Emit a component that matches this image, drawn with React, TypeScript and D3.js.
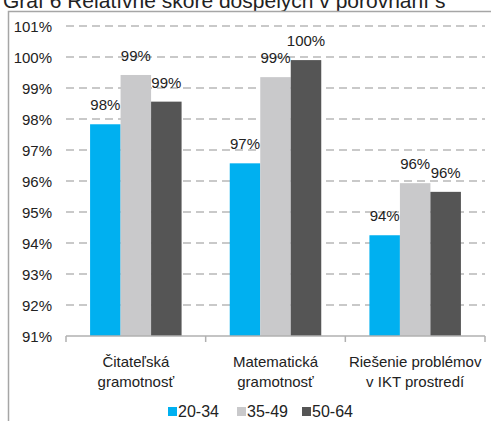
import React from "react";
import * as d3 from "d3";

const categories: string[][] = [
  ["Čitateľská", "gramotnosť"],
  ["Matematická", "gramotnosť"],
  ["Riešenie problémov", "v IKT prostredí"],
];
const seriesNames = ["20-34", "35-49", "50-64"];
const values2034 = [97.83, 96.57, 94.25];
const values3549 = [99.42, 99.35, 95.93];
const values5064 = [98.56, 99.9, 95.65];
const valueLabels2034 = ["98%", "97%", "94%"];
const valueLabels3549 = ["99%", "99%", "96%"];
const valueLabels5064 = ["99%", "100%", "96%"];
const yTicks = [91, 92, 93, 94, 95, 96, 97, 98, 99, 100, 101];
const colors = ["#00b0f0", "#c9c9cb", "#555555"];

const W = 491;
const H = 421;
const FONT = "'Liberation Sans', Arial, sans-serif";

export default function App() {
  const series = [values2034, values3549, values5064];
  const seriesLabels = [valueLabels2034, valueLabels3549, valueLabels5064];
  const catKeys = categories.map((c) => c.join(" "));

  const y = d3.scaleLinear().domain([91, 101]).range([336, 26]);
  const x0 = d3.scaleBand<string>().domain(catKeys).range([66, 485]).padding(0);
  const bw = x0.bandwidth();
  const groupW = 91.5;
  const off = (bw - groupW) / 2;
  const x1 = d3.scaleBand<string>().domain(seriesNames).range([off, bw - off]).padding(0);

  const legendItems = [
    { name: seriesNames[0], x: 168 },
    { name: seriesNames[1], x: 237 },
    { name: seriesNames[2], x: 302 },
  ];

  return (
    <svg
      width={W}
      height={H}
      style={{ position: "absolute", left: 0, top: 0, background: "#fff" }}
      fontFamily={FONT}
    >
      <rect x={0} y={0} width={W} height={H} fill="#fff" />
      {/* title, clipped at the top edge as in the reference */}
      <text x={3} y={8} fontSize={21} fill="#222">
        Graf 6 Relatívne skóre dospelých v porovnaní s
      </text>
      {/* border box */}
      <rect x={8.5} y={11.5} width={W + 10} height={H + 10} fill="none" stroke="#a6a6a6" strokeWidth={1.5} />

      {/* gridlines */}
      {yTicks.slice(1).map((t) => (
        <line
          key={t}
          x1={66}
          x2={485}
          y1={y(t)}
          y2={y(t)}
          stroke="#b8b8b8"
          strokeWidth={1.5}
          strokeDasharray="8,5"
        />
      ))}
      {/* y labels */}
      {yTicks.map((t) => (
        <text key={t} x={52} y={y(t) + 5.5} textAnchor="end" fontSize={15} fill="#222">
          {t}%
        </text>
      ))}

      {/* bars */}
      {catKeys.map((c, ci) => (
        <g key={c} transform={`translate(${x0(c)},0)`}>
          {series.map((vals, si) => (
            <rect
              key={si}
              x={x1(seriesNames[si])}
              y={y(vals[ci])}
              width={x1.bandwidth()}
              height={y(91) - y(vals[ci])}
              fill={colors[si]}
            />
          ))}
          {series.map((vals, si) => (
            <text
              key={"l" + si}
              x={(x1(seriesNames[si]) as number) + x1.bandwidth() / 2}
              y={y(vals[ci]) - 14}
              textAnchor="middle"
              fontSize={15}
              fill="#222"
            >
              {seriesLabels[si][ci]}
            </text>
          ))}
        </g>
      ))}

      {/* x axis */}
      <line x1={66} x2={485} y1={y(91)} y2={y(91)} stroke="#b0b0b0" strokeWidth={1.5} />
      {[...catKeys.map((c) => x0(c) as number), 485].map((tx, i) => (
        <line key={i} x1={tx} x2={tx} y1={y(91)} y2={y(91) + 6} stroke="#b0b0b0" strokeWidth={1.5} />
      ))}
      {categories.map((lines, ci) => (
        <text
          key={ci}
          x={(x0(catKeys[ci]) as number) + bw / 2}
          textAnchor="middle"
          fontSize={15}
          fill="#222"
        >
          <tspan x={(x0(catKeys[ci]) as number) + bw / 2} y={367}>
            {lines[0]}
          </tspan>
          <tspan x={(x0(catKeys[ci]) as number) + bw / 2} y={387}>
            {lines[1]}
          </tspan>
        </text>
      ))}

      {/* legend */}
      {legendItems.map((it, i) => (
        <g key={it.name}>
          <rect x={it.x} y={407} width={9} height={9} fill={colors[i]} />
          <text x={it.x + 10} y={417} fontSize={16} fill="#222">
            {it.name}
          </text>
        </g>
      ))}
    </svg>
  );
}
